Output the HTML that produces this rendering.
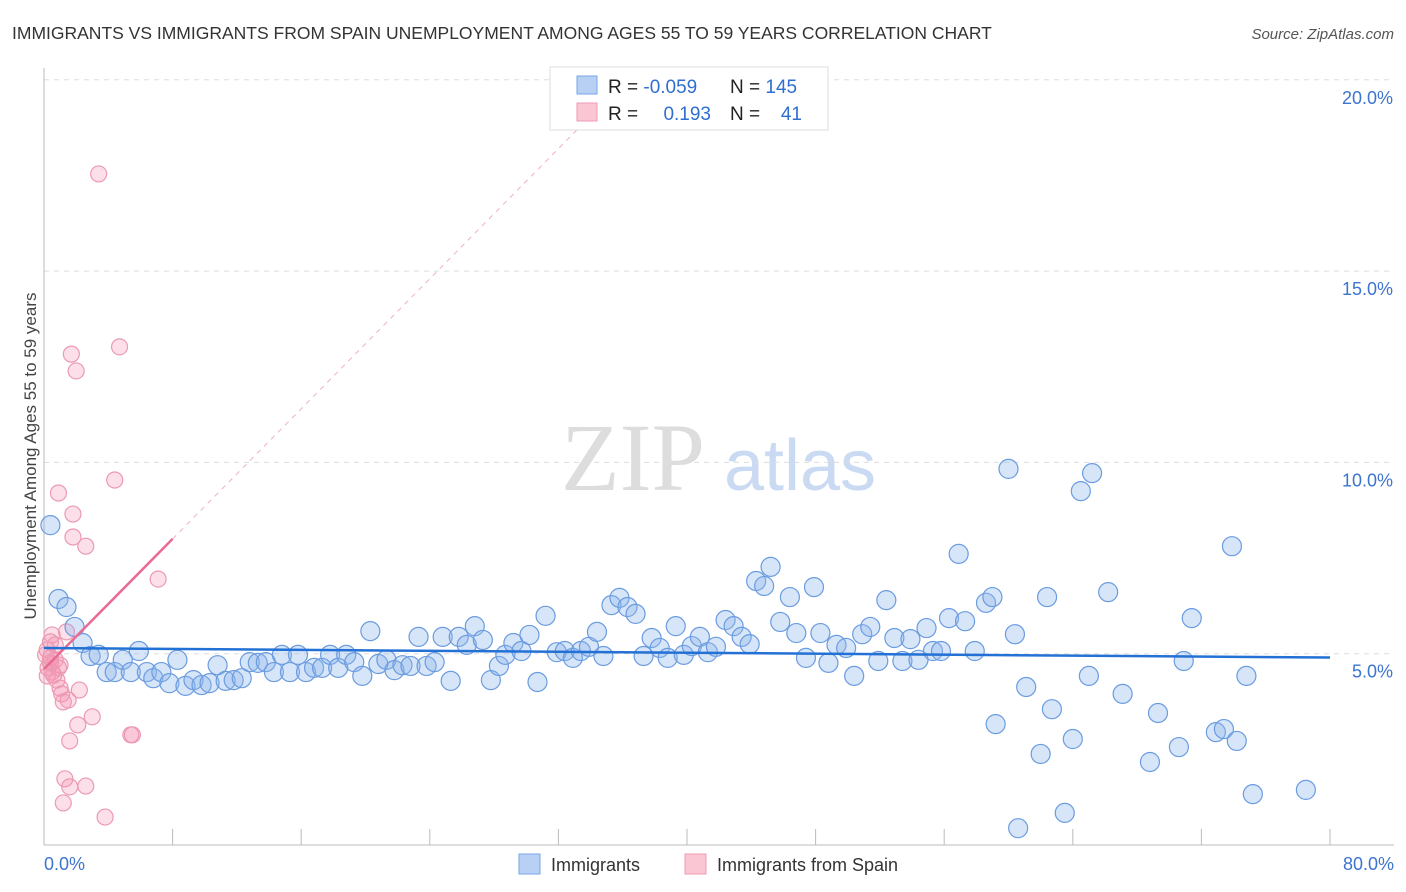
<!DOCTYPE html>
<html><head><meta charset="utf-8"><style>
body{margin:0;width:1406px;height:892px;background:#fff;font-family:"Liberation Sans",sans-serif;overflow:hidden}
svg{display:block}
</style></head><body>
<svg id="chart" width="1406" height="892">
<text x="12" y="39" font-size="17.5" fill="#333">IMMIGRANTS VS IMMIGRANTS FROM SPAIN UNEMPLOYMENT AMONG AGES 55 TO 59 YEARS CORRELATION CHART</text>
<text x="1394" y="39" font-size="15" fill="#555" font-style="italic" text-anchor="end">Source: ZipAtlas.com</text>
<text x="36" y="456" font-size="17" fill="#444" text-anchor="middle" transform="rotate(-90 36 456)">Unemployment Among Ages 55 to 59 years</text>
<g><text x="633" y="490" font-size="96" fill="#ddd" font-family="Liberation Serif,serif" text-anchor="middle">ZIP</text><text x="800" y="490" font-size="72" fill="#c9daf2" text-anchor="middle">atlas</text></g>
<g id="grid"></g><g id="axes"></g><g id="pinkpts"></g><g id="bluepts"></g><g id="trends"></g>
<g>
<rect x="550" y="67" width="278" height="63" fill="#fff" stroke="#ddd"/>
<rect x="577" y="76" width="20" height="18" fill="#b7d0f4" stroke="#7aa6e6"/>
<rect x="577" y="103" width="20" height="18" fill="#fbc6d4" stroke="#ef9ab2"/>
<text x="608" y="93" font-size="19" fill="#222">R = <tspan fill="#2f6fd0">-0.059</tspan></text>
<text x="730" y="93" font-size="19" fill="#222">N = <tspan fill="#2f6fd0">145</tspan></text>
<text x="608" y="120" font-size="19" fill="#222">R = </text><text x="711" y="120" font-size="19" fill="#2f6fd0" text-anchor="end">0.193</text>
<text x="730" y="120" font-size="19" fill="#222">N = </text><text x="802" y="120" font-size="19" fill="#2f6fd0" text-anchor="end">41</text>
</g>
<g>
<rect x="519" y="854" width="21" height="20" fill="#b7d0f4" stroke="#7aa6e6"/>
<text x="551" y="871" font-size="18" fill="#333">Immigrants</text>
<rect x="685" y="854" width="21" height="20" fill="#fbc6d4" stroke="#ef9ab2"/>
<text x="717" y="871" font-size="18" fill="#333">Immigrants from Spain</text>
</g>
</svg>
<script>
const blueX=[0.4,0.9,1.4,1.9,2.4,2.9,3.4,3.9,4.4,4.9,5.4,5.9,6.4,6.8,7.3,7.8,8.3,8.8,9.3,9.8,10.3,10.8,11.3,11.8,12.3,12.8,13.3,13.8,14.3,14.8,15.3,15.8,16.3,16.8,17.3,17.8,18.3,18.8,19.3,19.8,20.3,20.8,21.3,21.8,22.3,22.8,23.3,23.8,24.3,24.8,25.3,25.8,26.3,26.8,27.3,27.8,28.3,28.7,29.2,29.7,30.2,30.7,31.2,31.9,32.4,32.9,33.4,33.9,34.4,34.8,35.3,35.8,36.3,36.8,37.3,37.8,38.3,38.8,39.3,39.8,40.3,40.8,41.3,41.8,42.4,42.9,43.4,43.9,44.3,44.8,45.2,45.8,46.4,46.8,47.4,47.9,48.3,48.8,49.3,49.9,50.4,50.9,51.4,51.9,52.4,52.9,53.4,53.9,54.4,54.9,55.3,55.8,56.3,56.9,57.3,57.9,58.6,59.0,59.2,60.0,60.4,61.1,62.0,62.4,62.7,63.5,64.0,64.5,65.2,65.0,66.2,67.1,68.8,69.3,70.6,70.9,71.4,72.9,73.4,73.9,74.2,74.8,75.2,78.5,60.6];
const blueY=[8.36,6.43,6.22,5.70,5.28,4.94,4.97,4.52,4.52,4.84,4.52,5.07,4.52,4.36,4.52,4.23,4.84,4.16,4.31,4.18,4.23,4.70,4.29,4.31,4.36,4.78,4.76,4.78,4.52,4.97,4.52,4.97,4.52,4.63,4.63,4.97,4.63,4.97,4.78,4.42,5.59,4.73,4.84,4.57,4.70,4.68,5.44,4.68,4.78,5.44,4.29,5.44,5.23,5.72,5.36,4.31,4.68,4.97,5.28,5.07,5.49,4.26,5.99,5.04,5.07,4.89,5.07,5.18,5.57,4.94,6.27,6.46,6.22,6.04,4.94,5.41,5.15,4.89,5.72,4.97,5.20,5.44,5.04,5.18,5.88,5.72,5.44,5.25,6.90,6.77,7.27,5.83,6.48,5.54,4.89,6.74,5.54,4.76,5.23,5.15,4.42,5.51,5.70,4.81,6.40,5.41,4.81,5.38,4.84,5.67,5.07,5.07,5.93,7.61,5.85,5.07,6.33,6.48,3.16,9.83,5.51,4.13,2.38,6.48,3.55,0.84,2.77,9.25,9.72,4.42,6.61,3.95,2.17,3.45,2.56,4.81,5.93,2.95,3.03,7.81,2.72,4.42,1.33,1.44,0.44];
const pinkX=[3.4,1.7,2.0,4.7,0.9,4.4,1.8,1.8,2.6,7.1,0.5,1.4,0.4,0.7,0.2,0.4,0.7,1.0,0.25,0.5,0.2,0.8,1.0,1.1,1.5,1.2,2.2,2.1,3.0,1.6,5.5,5.4,1.3,1.6,2.6,1.2,3.8,0.6,0.9,0.4,0.1];
const pinkY=[17.54,12.83,12.39,13.02,9.2,9.54,8.65,8.05,7.81,6.95,5.49,5.57,5.31,5.23,5.10,4.89,4.84,4.70,4.63,4.52,4.42,4.31,4.10,3.95,3.79,3.74,4.05,3.14,3.35,2.72,2.88,2.88,1.73,1.52,1.54,1.10,0.73,4.44,4.63,4.76,4.97];
const blueTrendY=[5.15,4.9];
const pinkTrendY=[4.6,8.0];
const yTicks=[5,10,15,20];
const NS="http://www.w3.org/2000/svg";
const X0=44,X1=1330,XMAX=80,YB=845,YPER=38.26;
const sx=v=>X0+(X1-X0)*v/XMAX, sy=v=>YB-v*YPER;
function mk(tag,attrs,parent){const e=document.createElementNS(NS,tag);for(const k in attrs)e.setAttribute(k,attrs[k]);parent.appendChild(e);return e;}
const grid=document.getElementById('grid'),axes=document.getElementById('axes');
yTicks.forEach(t=>{
 const l=mk('line',{x1:X0,x2:1394,y1:sy(t),y2:sy(t),stroke:'#ddd','stroke-dasharray':'5,5'},grid);
 
 
 const tx=mk('text',{x:1393,y:sy(t)+24,'font-size':18,fill:'#3d74cf','text-anchor':'end'},axes);
 tx.textContent=t.toFixed(1)+'%';
 
 
});
const ya=mk('line',{x1:X0,x2:X0,y1:68,y2:YB,stroke:'#bbb'},axes);


const xa=mk('line',{x1:X0,x2:1394,y1:YB,y2:YB,stroke:'#bbb'},axes);


for(let i=0;i<=10;i++){const tk=mk('line',{x1:sx(i*8),x2:sx(i*8),y1:YB,y2:829,stroke:'#bbb'},axes);
 
 }
[[0,'0.0%','start',44],[80,'80.0%','end',1394]].forEach(([v,s,a,x])=>{const t=mk('text',{x:x,y:870,'font-size':18,fill:'#3d74cf','text-anchor':a},axes);t.textContent=s;
 
 });
const pp=document.getElementById('pinkpts');
pinkX.forEach((x,i)=>{const c=mk('circle',{cx:sx(x),cy:sy(pinkY[i]),r:8,fill:'rgba(245,150,180,0.3)',stroke:'#eb9ab2','stroke-width':1.2},pp);
 
 });
const bp=document.getElementById('bluepts');
blueX.forEach((x,i)=>{const c=mk('circle',{cx:sx(x),cy:sy(blueY[i]),r:9.5,fill:'rgba(140,180,235,0.35)',stroke:'#6a9ce0','stroke-width':1.2},bp);
 
 });
const tr=document.getElementById('trends');
const slope=(pinkTrendY[1]-pinkTrendY[0])/8;
const xEnd=34;
const pd=mk('line',{x1:sx(8),y1:sy(pinkTrendY[1]),x2:sx(xEnd),y2:sy(pinkTrendY[0]+slope*xEnd),stroke:'#f0b0c4','stroke-dasharray':'5,5','stroke-width':1},tr);


const pl=mk('line',{x1:sx(0),y1:sy(pinkTrendY[0]),x2:sx(8),y2:sy(pinkTrendY[1]),stroke:'#eb6a92','stroke-width':2.5},tr);


const bl=mk('line',{x1:sx(0),y1:sy(blueTrendY[0]),x2:sx(80),y2:sy(blueTrendY[1]),stroke:'#2471d6','stroke-width':2.5},tr);


</script>
</body></html>
